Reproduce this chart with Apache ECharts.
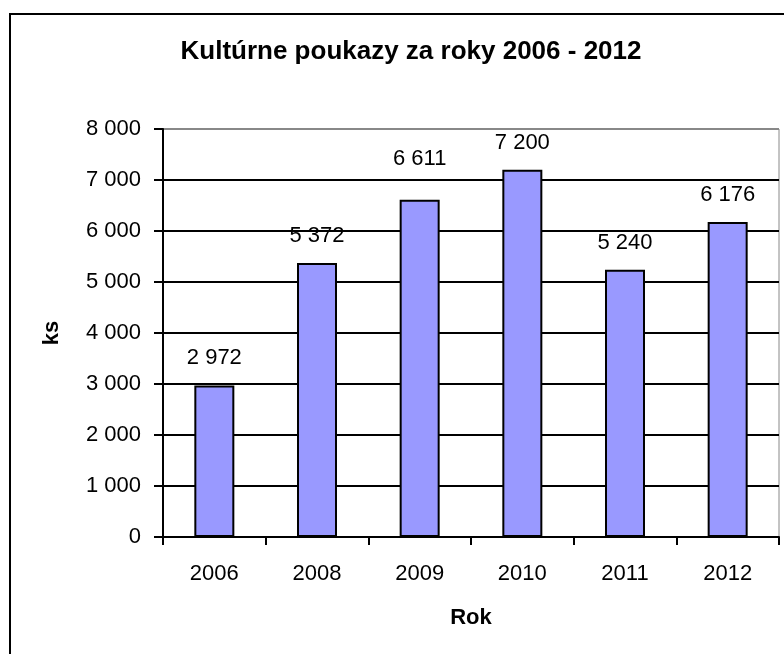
<!DOCTYPE html>
<html><head><meta charset="utf-8">
<script src="https://cdn.jsdelivr.net/npm/echarts@6/dist/echarts.min.js"></script>
<style>html,body{margin:0;padding:0;background:#fff}#c{width:784px;height:654px}</style>
</head><body><div id="c"></div>
<script>
const categories = ['2006','2008','2009','2010','2011','2012'];
const values = [2972, 5372, 6611, 7200, 5240, 6176];
const yTicks = [0,1000,2000,3000,4000,5000,6000,7000,8000];
const titleText = 'Kultúrne poukazy za roky 2006 - 2012';

const fmt = v => String(v).replace(/\B(?=(\d{3})+(?!\d))/g, ' ');
const FONT = 'Liberation Sans, Arial, sans-serif';
// Excel nudged the 2009 label above the 7 000 gridline
const seriesData = values.map((v, i) => i === 2 ? { value: v, label: { offset: [0, -14] } } : v);
const chart = echarts.init(document.getElementById('c'));
chart.setOption({
  animation: false,
  title: { text: titleText, left: 406, top: 34, textAlign: 'center',
    textStyle: { fontFamily: FONT, fontWeight: 'bold', fontSize: 26, color: '#000' } },
  graphic: [{ type: 'rect', shape: { x: 10, y: 14, width: 800, height: 700 },
    style: { fill: 'none', stroke: '#000', lineWidth: 2 }, z: 100 }],
  grid: { left: 163, top: 129, right: 5, bottom: 117, show: true, borderColor: '#888', borderWidth: 1 },
  xAxis: {
    type: 'category', data: categories,
    name: 'Rok', nameLocation: 'middle', nameGap: 70,
    nameTextStyle: { fontFamily: FONT, fontWeight: 'bold', fontSize: 22, color: '#000' },
    axisLine: { lineStyle: { color: '#000', width: 2 } },
    axisTick: { show: true, length: 8, lineStyle: { color: '#000', width: 2 } },
    axisLabel: { fontFamily: FONT, fontSize: 22, color: '#000', margin: 26 }
  },
  yAxis: {
    type: 'value', min: yTicks[0], max: yTicks[yTicks.length-1], interval: 1000,
    name: 'ks', nameLocation: 'middle', nameGap: 100, nameRotate: 90,
    nameTextStyle: { fontFamily: FONT, fontWeight: 'bold', fontSize: 22, color: '#000' },
    axisLine: { show: true, lineStyle: { color: '#000', width: 2 } },
    axisTick: { show: true, length: 9, lineStyle: { color: '#000', width: 2 } },
    axisLabel: { fontFamily: FONT, fontSize: 22, color: '#000', margin: 22, formatter: fmt },
    splitLine: { show: true, lineStyle: { color: ['#000','#000','#000','#000','#000','#000','#000','#000','#888'], width: 2 } }
  },
  series: [{
    type: 'bar', data: seriesData, barWidth: 40,
    itemStyle: { color: '#9999FF', borderColor: '#000', borderWidth: 2 },
    label: { show: true, position: 'top', distance: 16, formatter: p => fmt(p.value),
      fontFamily: FONT, fontSize: 22, color: '#000' }
  }]
});
</script></body></html>
